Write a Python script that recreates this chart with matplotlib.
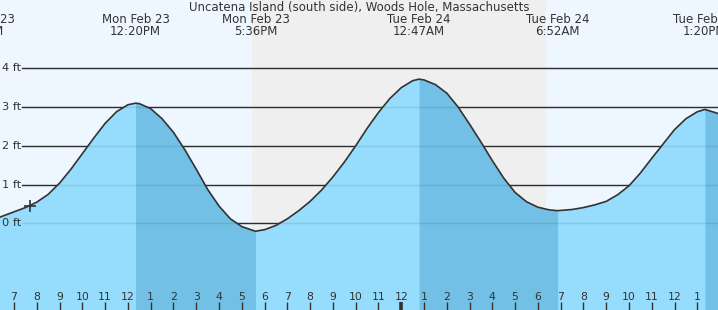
import numpy as np
from matplotlib import pyplot as plt
import matplotlib.transforms as mtransforms

title = 'Uncatena Island (south side), Woods Hole, Massachusetts'

# hours since Mon Feb 23 00:00 and water level in ft
hours = [6.0, 6.5, 7.0, 7.5, 8.0, 8.5, 9.0, 9.5, 10.0, 10.5, 11.0, 11.5, 12.0,
         12.333, 12.5, 13.0, 13.5, 14.0, 14.5, 15.0, 15.5, 16.0, 16.5, 17.0,
         17.6, 18.0, 18.5, 19.0, 19.5, 20.0, 20.5, 21.0, 21.5, 22.0, 22.5,
         23.0, 23.5, 24.0, 24.5, 24.783, 25.0, 25.5, 26.0, 26.5, 27.0, 27.5,
         28.0, 28.5, 29.0, 29.5, 30.0, 30.5, 30.867, 31.5, 32.0, 32.5, 33.0,
         33.5, 34.0, 34.5, 35.0, 35.5, 36.0, 36.5, 37.0, 37.333, 38.0]
level = [0.08, 0.19, 0.30, 0.41, 0.55, 0.75, 1.04, 1.40, 1.80, 2.20, 2.58, 2.88, 3.06,
         3.10, 3.09, 2.96, 2.70, 2.35, 1.90, 1.40, 0.88, 0.45, 0.12, -0.08,
         -0.20, -0.16, -0.05, 0.12, 0.33, 0.57, 0.86, 1.20, 1.58, 2.00, 2.45,
         2.86, 3.22, 3.50, 3.68, 3.72, 3.70, 3.58, 3.36, 3.00, 2.56, 2.10,
         1.62, 1.17, 0.80, 0.56, 0.42, 0.35, 0.33, 0.36, 0.41, 0.48, 0.57,
         0.74, 0.97, 1.30, 1.68, 2.05, 2.42, 2.70, 2.88, 2.94, 2.82]

# high / low tides shown at the top
extreme_hours = [5.55, 12.333, 17.6, 24.783, 30.867, 37.333]
extreme_dates = ['Mon Feb 23', 'Mon Feb 23', 'Mon Feb 23', 'Tue Feb 24', 'Tue Feb 24', 'Tue Feb 24']
extreme_times = ['5:33AM', '12:20PM', '5:36PM', '12:47AM', '6:52AM', '1:20PM']

# falling tide (high -> low) get the darker water
falling = [(12.333, 17.6), (24.783, 30.867), (37.333, 38.0)]

sunset, sunrise = 17.45, 30.35
now_hour, now_level = 7.7, 0.46
tick_hours = list(range(7, 38))
ft_levels = [0, 1, 2, 3, 4]

text_col = '#333333'
day_col = '#eef7ff'
night_col = '#efefef'
water_col = '#96dcfc'
water_dark = '#72c0e5'

fig = plt.figure(figsize=(7.18, 3.10), dpi=100, facecolor=day_col)
ax = fig.add_axes([0, 0, 1, 1])
ax.set_xlim(6.385, 37.908)
ax.set_ylim(-2.23, 5.76)
ax.axvspan(6.385, 37.908, color=day_col, lw=0, zorder=0)
ax.axvspan(sunset, sunrise, color=night_col, lw=0, zorder=0)

h = np.array(hours)
lv = np.array(level)
bottom = -2.23

# grid lines, solid above the water and faint inside it
for f in ft_levels:
    ax.axhline(f, xmin=22 / 718, xmax=1, color=text_col, lw=1.0, zorder=1)
    ax.axhline(f, xmin=22 / 718, xmax=1, color=(0, 0, 0, 0.09), lw=1.0, zorder=3)
    ax.text(6.385 + 2 / 22.78, f, '%d ft' % f, ha='left', va='center',
            fontsize=8.2, color=text_col, zorder=4)

ax.fill_between(h, lv, bottom, color=water_col, lw=0, zorder=2)
for a, b in falling:
    m = (h >= a) & (h <= b)
    ax.fill_between(h[m], lv[m], bottom, color=water_dark, lw=0, zorder=2)
ax.plot(h, lv, color=text_col, lw=1.2, zorder=5, solid_joinstyle='round')
ax.plot([now_hour], [now_level], marker='+', ms=9, mew=1.2, color=text_col, zorder=6)

# hour ticks along the bottom
trans = mtransforms.blended_transform_factory(ax.transData, ax.transAxes)
for t in tick_hours:
    lab = str((t - 1) % 12 + 1)
    ax.text(t, 1 - 297 / 310, lab, transform=trans, ha='center', va='center',
            fontsize=7.8, color=text_col, zorder=6)
    ax.plot([t, t], [0, 8 / 310], transform=trans, color=text_col,
            lw=2.6 if t % 24 == 0 else 1.0, zorder=6, solid_capstyle='butt')

# labels at top
ax.text(0.5, 1 - 8 / 310, title, transform=ax.transAxes, ha='center', va='center',
        fontsize=8.5, color=text_col, zorder=7)
for x, d, tm in zip(extreme_hours, extreme_dates, extreme_times):
    ax.text(x, 1 - 19.5 / 310, d, transform=trans, ha='center', va='center',
            fontsize=8.5, color=text_col, zorder=7)
    ax.text(x, 1 - 31.5 / 310, tm, transform=trans, ha='center', va='center',
            fontsize=8.5, color=text_col, zorder=7)

ax.axis('off')
fig.savefig('out.png', dpi=100, facecolor=day_col)
